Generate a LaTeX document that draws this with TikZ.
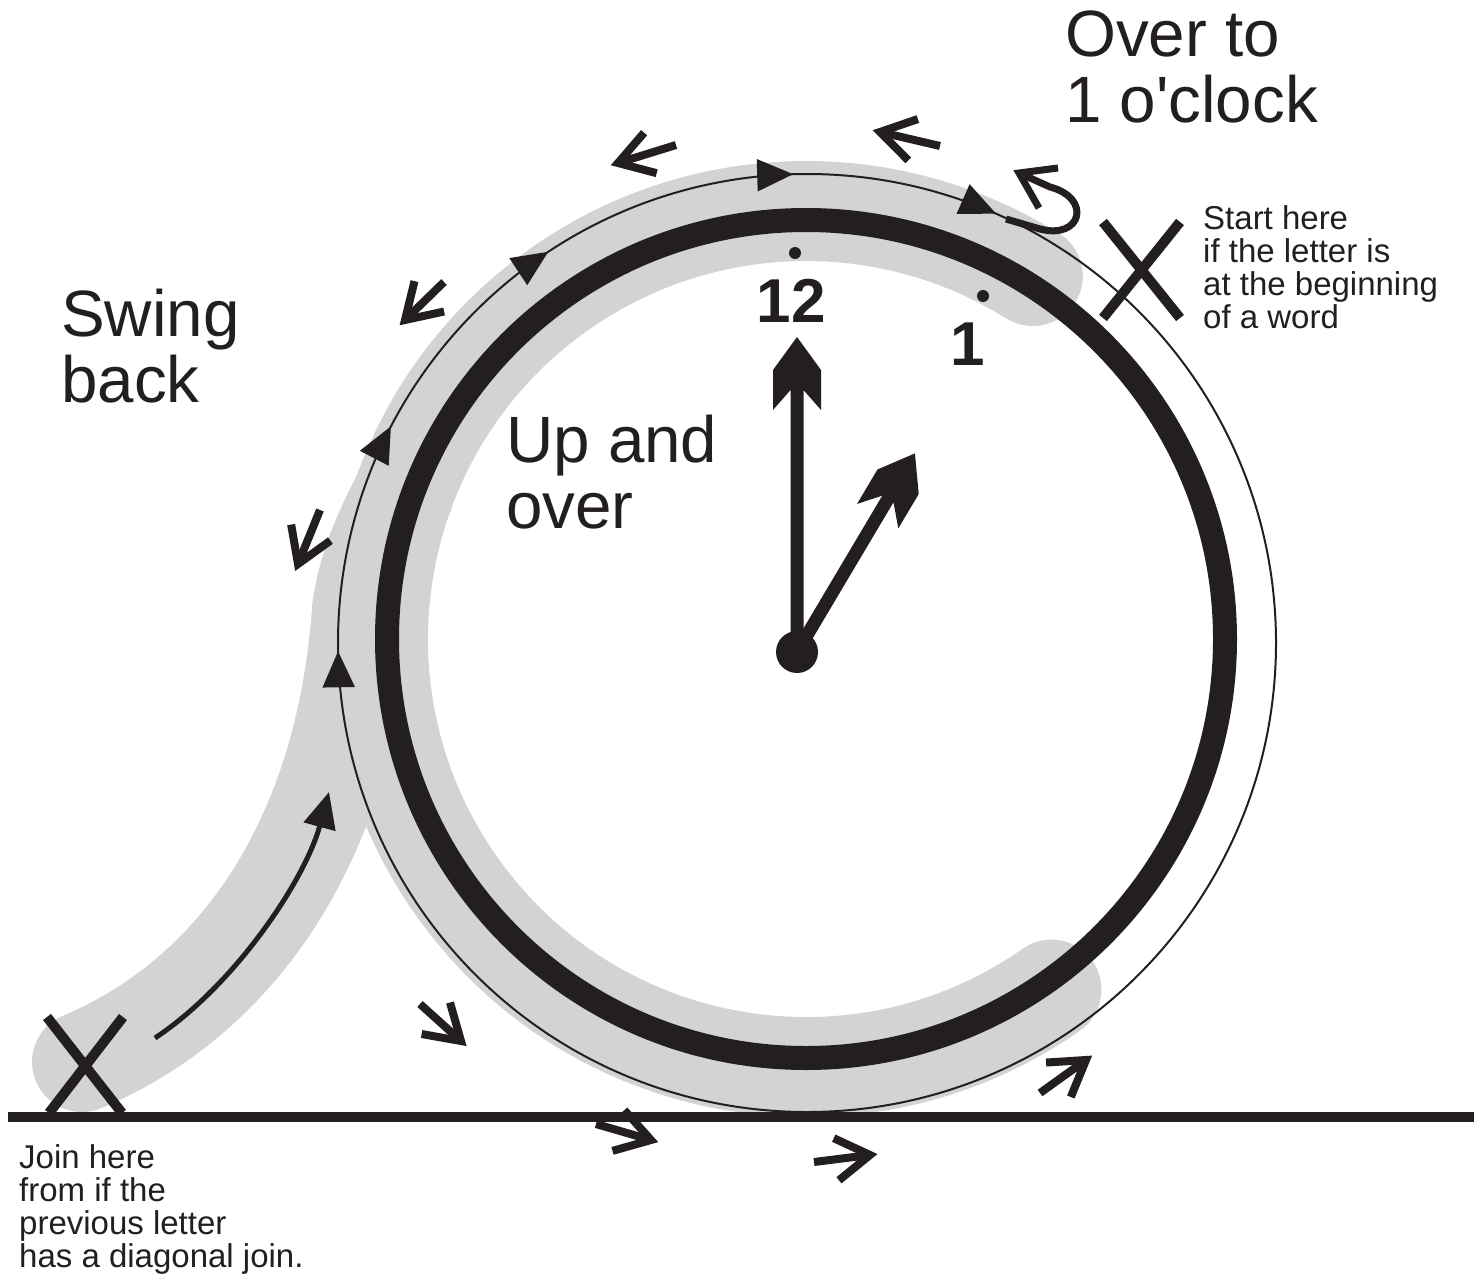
\documentclass[tikz,border=0pt]{standalone}
\usepackage{fontspec}
\setmainfont{Liberation Sans}
\usetikzlibrary{arrows.meta,calc,decorations.markings}
\definecolor{ink}{RGB}{35,31,32}
\definecolor{bandgrey}{RGB}{209,211,212}
\newcommand\chevarrow[2]{%
  \draw[chev] (#1) -- (#2);
  \draw[chev] ($(#2)!40pt!32:(#1)$) -- (#2) -- ($(#2)!40pt!-32:(#1)$);}
\begin{document}
\begin{tikzpicture}[x=1pt,y=-1pt,color=ink,
  band/.style={draw=bandgrey, line width=100pt, line cap=round},
  ring/.style={draw=ink, line width=24pt},
  guide/.style={draw=ink, line width=2pt},
  chev/.style={draw=ink, line width=8pt, line cap=butt, line join=miter},
  cross/.style={draw=ink, line width=10pt},
  ground/.style={draw=ink, line width=10pt},
  hook/.style={draw=ink, line width=7pt, line join=miter},
  lead/.style={draw=ink, line width=5pt},
  tri/.tip={Triangle[length=36pt,width=32pt]},
  bigtext/.style={font=\fontsize{65.5}{65.5}\selectfont, text=ink, anchor=north west, inner sep=0pt, align=left},
  smalltext/.style={font=\fontsize{33}{33}\selectfont, text=ink, anchor=north west, inner sep=0pt, align=left},
  numeral/.style={font=\fontsize{62}{62}\selectfont\bfseries, text=ink, anchor=base, inner sep=0pt},
  pics/clockhand/.style={code={
    \fill[ink] (0,-6.5) -- (#1-53,-6.5) -- (#1-73,-24) -- (#1-33,-24) -- (#1,0)
      -- (#1-33,24) -- (#1-73,24) -- (#1-53,6.5) -- (0,6.5) -- cycle;}}
]
\fill[white] (0,0) rectangle (1474,1276);
\useasboundingbox (0,0) rectangle (1474,1276);

% centres
\coordinate (ringc) at (806,639);
\coordinate (guidec) at (807,643);
\coordinate (hub) at (797,652);

% grey band
\coordinate (join) at (82,1062);
\coordinate (merge) at (362,610);
\coordinate (merged) at (404,493);
\draw[band] (join) .. controls (230,1000) and (345,850) .. (merge)
  .. controls (368,565) and (385,530) .. (merged);
\draw[band] ($(ringc)+(55:428)$) arc[start angle=55, end angle=302, radius=428];

% thick ring
\draw[ring] (ringc) circle[radius=419];

% thin guide circle with arrows
\path[guide, postaction={decorate}, decoration={markings,
  mark=at position 0.2472 with {\arrow{tri}},
  mark=at position 0.3264 with {\arrow{tri}},
  mark=at position 0.4070 with {\arrow{tri}},
  mark=at position 0.4953 with {\arrow{tri}},
  mark=at position 0.5660 with {\arrow{tri}}}]
  ($(guidec)+(90:469)$) arc[start angle=90, end angle=450, radius=469];

% lead-in arrow
\coordinate (leadA) at (155,1038);
\coordinate (leadB) at (329,792);
\draw[lead, -tri] (leadA) .. controls (235,985) and (305,880) .. (leadB);

% hook at the top right
\coordinate (hookA) at (1006,219);
\coordinate (hookB) at (1040,229);
\coordinate (hookC) at (1050,187);
\coordinate (hookT) at (1019,173);
\coordinate (hookU) at (1058,168);
\coordinate (hookV) at (1039,208);
\draw[hook] (hookA) -- (hookB) .. controls (1082,240) and (1092,198) .. (hookC) -- (hookT);
\draw[hook] (hookU) -- (hookT) -- (hookV);

% crosses
\coordinate (xa1) at (47,1017);  \coordinate (xa2) at (122,1113);
\coordinate (xa3) at (123,1017); \coordinate (xa4) at (49,1113);
\draw[cross] (xa1) -- (xa2);
\draw[cross] (xa3) -- (xa4);
\coordinate (xb1) at (1103,222); \coordinate (xb2) at (1180,318);
\coordinate (xb3) at (1180,222); \coordinate (xb4) at (1103,318);
\draw[cross] (xb1) -- (xb2);
\draw[cross] (xb3) -- (xb4);

% ground line
\coordinate (gl) at (8,1117);
\coordinate (gr) at (1474,1117);
\draw[ground] (gl) -- (gr);

% direction chevrons
\coordinate (c1t) at (676,145);  \coordinate (c1h) at (618,163);
\coordinate (c2t) at (940,146);  \coordinate (c2h) at (880,132);
\coordinate (c3t) at (444,282);  \coordinate (c3h) at (405,320);
\coordinate (c4t) at (320,510);  \coordinate (c4h) at (298,564);
\coordinate (c5t) at (420,1004); \coordinate (c5h) at (461,1041);
\coordinate (c6t) at (596,1124); \coordinate (c6h) at (651,1140);
\coordinate (c7t) at (814,1162); \coordinate (c7h) at (870,1155);
\coordinate (c8t) at (1040,1093);\coordinate (c8h) at (1086,1060);
\chevarrow{c1t}{c1h}
\chevarrow{c2t}{c2h}
\chevarrow{c3t}{c3h}
\chevarrow{c4t}{c4h}
\chevarrow{c5t}{c5h}
\chevarrow{c6t}{c6h}
\chevarrow{c7t}{c7h}
\chevarrow{c8t}{c8h}

% clock hands
\pic[rotate=90] (minutehand) at (hub) {clockhand=315};
\pic[rotate=59.3] (hourhand) at (hub) {clockhand=231};
\fill (hub) circle[radius=21];
\coordinate (dot12) at (795,253);
\coordinate (dot1) at (983,296);
\fill (dot12) circle[radius=6];
\fill (dot1) circle[radius=6];

% texts
\node[numeral] (n12) at (791,322) {12};
\node[numeral] (n1) at (968,365) {1};
\node[bigtext] (over) at (1065,11) {Over to\\1 o\textquotesingle clock};
\node[bigtext] (swing) at (61,289) {Swing\\back};
\node[bigtext] (upover) at (506,415) {Up and\\over};
\node[smalltext] (start) at (1203,205) {Start here\\if the letter is\\at the beginning\\of a word};
\node[smalltext] (joinhere) at (19,1144) {Join here\\from if the\\previous letter\\has a diagonal join.};
\end{tikzpicture}
\end{document}
